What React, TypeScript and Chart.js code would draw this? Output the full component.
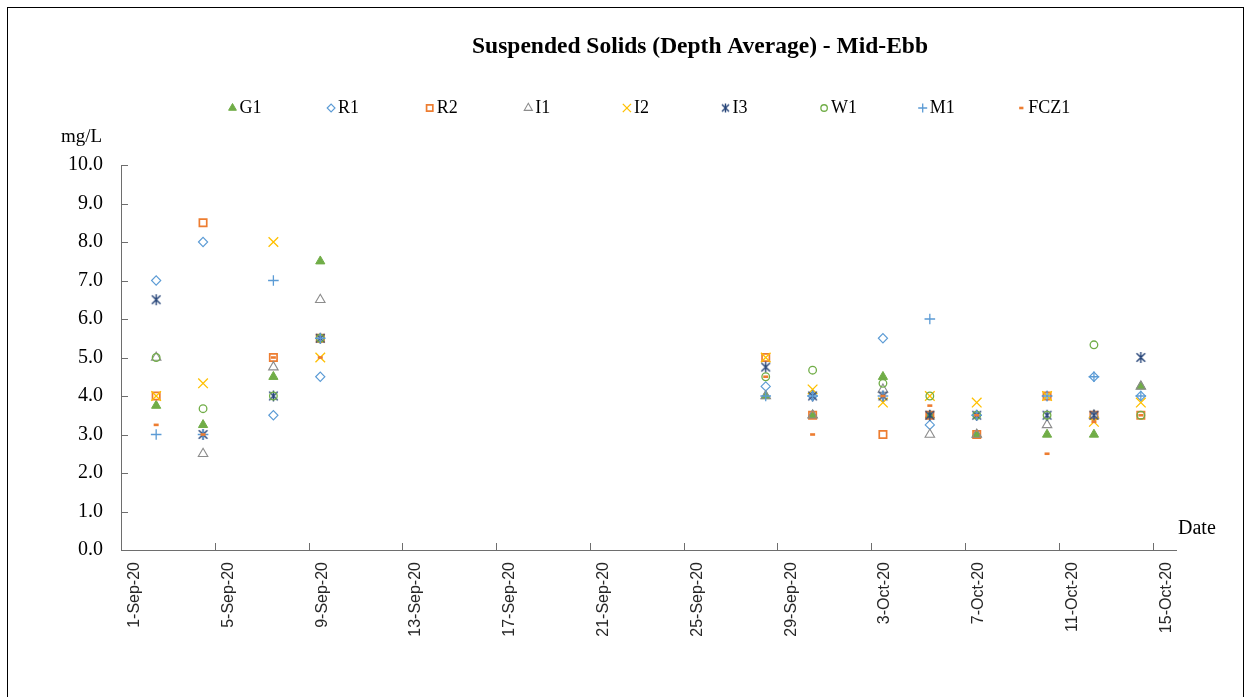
import { useEffect, useRef } from 'react';
import { Chart, registerables } from 'chart.js';
import { drawPoint } from 'chart.js/helpers';

Chart.register(...registerables);

// ---------- data ----------
const sampleDates = [
  '2020-09-02', '2020-09-04', '2020-09-07', '2020-09-09',
  '2020-09-28', '2020-09-30', '2020-10-03', '2020-10-05',
  '2020-10-07', '2020-10-10', '2020-10-12', '2020-10-14',
];
const G1 = [3.75, 3.25, 4.5, 7.5, 4.0, 3.5, 4.5, 3.5, 3.0, 3.0, 3.0, 4.25];
const R1 = [7.0, 8.0, 3.5, 4.5, 4.25, 4.0, 5.5, 3.25, 3.5, 4.0, 4.5, 4.0];
const R2 = [4.0, 8.5, 5.0, 5.5, 5.0, 3.5, 3.0, 3.5, 3.0, 4.0, 3.5, 3.5];
const I1 = [5.0, 2.5, 4.75, 6.5, 4.0, 3.5, 4.17, 3.0, 3.0, 3.25, 3.5, 4.25];
const I2 = [4.0, 4.33, 8.0, 5.0, 5.0, 4.17, 3.83, 4.0, 3.83, 4.0, 3.33, 3.83];
const I3 = [6.5, 3.0, 4.0, 5.5, 4.75, 4.0, 4.0, 3.5, 3.5, 3.5, 3.5, 5.0];
const W1 = [5.0, 3.67, 4.0, 5.5, 4.5, 4.67, 4.33, 4.0, 3.5, 3.5, 5.33, 3.5];
const M1 = [3.0, 3.0, 7.0, 5.5, 4.0, 4.0, 4.0, 6.0, 3.5, 4.0, 4.5, 4.0];
const FCZ1 = [3.25, 3.0, 5.0, 5.0, 4.5, 3.0, 4.0, 3.75, 3.5, 2.5, 3.33, 3.5];

const xTickDates = [
  '2020-09-01', '2020-09-05', '2020-09-09', '2020-09-13', '2020-09-17', '2020-09-21',
  '2020-09-25', '2020-09-29', '2020-10-03', '2020-10-07', '2020-10-11', '2020-10-15',
];
const yTickValues = [0, 1, 2, 3, 4, 5, 6, 7, 8, 9, 10];

const TITLE = 'Suspended Solids (Depth Average) - Mid-Ebb';
const Y_UNIT = 'mg/L';
const X_TITLE = 'Date';

// ---------- helpers ----------
const BASE = Date.UTC(2020, 8, 1);
const DAY = 86400000;
const MONTHS = ['Jan', 'Feb', 'Mar', 'Apr', 'May', 'Jun', 'Jul', 'Aug', 'Sep', 'Oct', 'Nov', 'Dec'];
const toDay = (s: string) => (Date.parse(s + 'T00:00:00Z') - BASE) / DAY;
const fmtDay = (d: number) => {
  const dt = new Date(BASE + Math.round(d) * DAY);
  return `${dt.getUTCDate()}-${MONTHS[dt.getUTCMonth()]}-${String(dt.getUTCFullYear()).slice(2)}`;
};
const sampleDays = sampleDates.map(toDay);
const tickDays = xTickDates.map(toDay);

function makeAsterisk(color: string, size: number) {
  const c = document.createElement('canvas');
  c.width = size;
  c.height = size;
  const ctx = c.getContext('2d')!;
  const m = size / 2;
  const r = size / 2 - 1;
  const d = r * 0.78;
  ctx.strokeStyle = color;
  ctx.lineWidth = 1.4;
  ctx.beginPath();
  ctx.moveTo(m - d, m - d); ctx.lineTo(m + d, m + d);
  ctx.moveTo(m - d, m + d); ctx.lineTo(m + d, m - d);
  ctx.moveTo(m, m - r); ctx.lineTo(m, m + r);
  ctx.stroke();
  return c;
}

const AXIS = '#6e6e6e';

export default function App() {
  const ref = useRef<HTMLCanvasElement | null>(null);

  useEffect(() => {
    const canvas = ref.current;
    if (!canvas) return;

    const asterisk = makeAsterisk('#264478', 13);
    const asteriskSmall = makeAsterisk('#264478', 11);

    const series = [
      { label: 'G1', values: G1, style: 'triangle', border: '#70AD47', fill: '#70AD47', radius: 5.3, bw: 1 },
      { label: 'R1', values: R1, style: 'rectRot', border: '#5B9BD5', fill: 'rgba(255,255,255,0)', radius: 4.6, bw: 1.1 },
      { label: 'R2', values: R2, style: 'rect', border: '#ED7D31', fill: 'rgba(255,255,255,0)', radius: 5.2, bw: 1.7 },
      { label: 'I1', values: I1, style: 'triangle', border: '#8c8c8c', fill: 'rgba(255,255,255,0)', radius: 5.5, bw: 1.1 },
      { label: 'I2', values: I2, style: 'crossRot', border: '#FFC000', fill: '#FFC000', radius: 6.8, bw: 1.3 },
      { label: 'I3', values: I3, style: asterisk as any, legendStyle: asteriskSmall as any, border: '#264478', fill: '#264478', radius: 5, bw: 1.2 },
      { label: 'W1', values: W1, style: 'circle', border: '#70AD47', fill: 'rgba(255,255,255,0)', radius: 3.8, bw: 1.3 },
      { label: 'M1', values: M1, style: 'cross', border: '#5B9BD5', fill: '#5B9BD5', radius: 5.3, bw: 1.3 },
      { label: 'FCZ1', values: FCZ1, style: 'line', border: '#ED7D31', fill: '#ED7D31', radius: 2.5, bw: 2.6 },
    ];

    const n = series.length;
    const datasets = series.map((s, i) => ({
      label: s.label,
      data: sampleDays.map((d, j) => ({ x: d, y: s.values[j] })),
      showLine: false,
      pointStyle: s.style,
      pointRadius: s.radius,
      pointHoverRadius: s.radius,
      pointBorderWidth: s.bw,
      pointBorderColor: s.border,
      pointBackgroundColor: s.fill,
      borderColor: s.border,
      backgroundColor: s.fill,
      order: n - i,
    }));

    const decor = {
      id: 'decor',
      afterDraw(chart: any) {
        const { ctx, chartArea } = chart;
        const xs = chart.scales.x;
        const ys = chart.scales.y;
        ctx.save();
        // outer frame
        ctx.strokeStyle = '#000';
        ctx.lineWidth = 1;
        ctx.strokeRect(7.5, 7.5, 1236, 720);

        // inside tick marks
        ctx.strokeStyle = AXIS;
        ctx.lineWidth = 1;
        ctx.beginPath();
        yTickValues.forEach((v) => {
          const py = Math.round(ys.getPixelForValue(v)) + 0.5;
          ctx.moveTo(chartArea.left, py);
          ctx.lineTo(chartArea.left + 7, py);
        });
        tickDays.forEach((d) => {
          const px = Math.round(xs.getPixelForValue(d - 0.5)) + 0.5;
          ctx.moveTo(px, chartArea.bottom);
          ctx.lineTo(px, chartArea.bottom - 7);
        });
        ctx.stroke();

        // title
        ctx.fillStyle = '#000';
        ctx.font = 'bold 23.5px "Liberation Serif", "Times New Roman", serif';
        ctx.textAlign = 'center';
        ctx.textBaseline = 'middle';
        ctx.fillText(TITLE, 700, 47);

        // axis titles
        ctx.font = '19px "Liberation Serif", "Times New Roman", serif';
        ctx.textAlign = 'left';
        ctx.fillText(Y_UNIT, 61, 137);
        ctx.font = '20px "Liberation Serif", "Times New Roman", serif';
        ctx.fillText(X_TITLE, 1178, 529);

        // legend
        ctx.font = '18px "Liberation Serif", "Times New Roman", serif';
        ctx.textBaseline = 'middle';
        series.forEach((s, i) => {
          const mx = 232.5 + i * 98.6;
          const my = 108;
          ctx.strokeStyle = s.border;
          ctx.fillStyle = s.fill;
          ctx.lineWidth = s.bw;
          drawPoint(ctx, { pointStyle: (s as any).legendStyle || s.style, rotation: 0, borderWidth: s.bw, radius: s.radius * 0.85 } as any, mx, my);
          ctx.fillStyle = '#000';
          ctx.fillText(s.label, mx + 7, my);
        });
        ctx.restore();
      },
    };

    const chart = new Chart(canvas, {
      type: 'scatter',
      data: { datasets: datasets as any },
      options: {
        animation: false,
        responsive: false,
        devicePixelRatio: 1,
        layout: { padding: { top: 165, left: 0, right: 75, bottom: 0 } },
        plugins: {
          legend: { display: false },
          title: { display: false },
          tooltip: { enabled: false },
        },
        scales: {
          x: {
            type: 'linear',
            min: -0.5,
            max: 44.5,
            afterBuildTicks: (s: any) => {
              s.ticks = tickDays.map((v) => ({ value: v }));
            },
            afterFit: (s: any) => {
              s.height = 147;
            },
            grid: { display: false, drawTicks: false },
            border: { display: true, color: AXIS, width: 1 },
            ticks: {
              minRotation: 90,
              maxRotation: 90,
              autoSkip: false,
              padding: 12,
              labelOffset: 2,
              color: '#262626',
              font: { family: '"Liberation Sans", Arial, sans-serif', size: 16 },
              callback: (v: any) => fmtDay(Number(v)),
            },
          },
          y: {
            type: 'linear',
            min: 0,
            max: 10,
            afterBuildTicks: (s: any) => {
              s.ticks = yTickValues.map((v) => ({ value: v }));
            },
            afterFit: (s: any) => {
              s.width = 121;
            },
            grid: { display: false, drawTicks: false },
            border: { display: true, color: AXIS, width: 1 },
            ticks: {
              padding: 18,
              color: '#000',
              font: { family: '"Liberation Serif", "Times New Roman", serif', size: 20 },
              callback: (v: any) => Number(v).toFixed(1),
            },
          },
        },
      },
      plugins: [decor],
    });

    return () => chart.destroy();
  }, []);

  return (
    <div style={{ position: 'absolute', left: 0, top: 0, width: 1251, height: 697, background: '#fff' }}>
      <canvas ref={ref} width={1251} height={697} style={{ display: 'block', width: 1251, height: 697 }} />
    </div>
  );
}
